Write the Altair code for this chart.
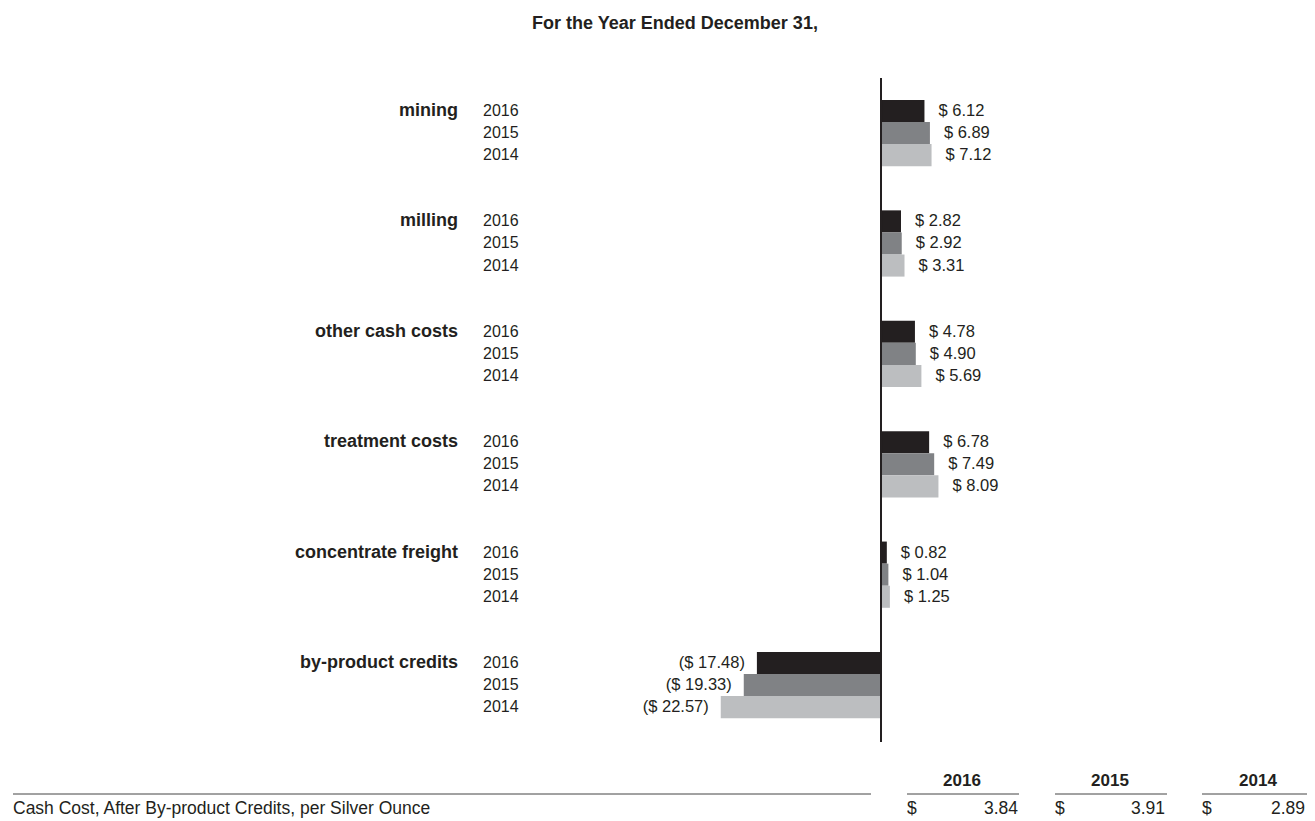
import altair as alt
import pandas as pd

# ---- data ----
categories = ["mining", "milling", "other cash costs", "treatment costs",
              "concentrate freight", "by-product credits"]
years = ["2016", "2015", "2014"]
v2016 = [6.12, 2.82, 4.78, 6.78, 0.82, -17.48]
v2015 = [6.89, 2.92, 4.90, 7.49, 1.04, -19.33]
v2014 = [7.12, 3.31, 5.69, 8.09, 1.25, -22.57]
total_label = "Cash Cost, After By-product Credits, per Silver Ounce"
totals = [3.84, 3.91, 2.89]
title_text = "For the Year Ended December 31,"

colors = ["#231f20", "#808285", "#bcbec0"]
FONT = "Liberation Sans"
INK = "#231f20"

series = {"2016": v2016, "2015": v2015, "2014": v2014}
rows = []
for gi, cat in enumerate(categories):
    for yi, yr in enumerate(years):
        v = series[yr][gi]
        lab = f"$ {v:.2f}" if v >= 0 else f"($ {abs(v):.2f})"
        rows.append({"category": cat, "year": yr, "value": v,
                     "r": gi * 5 + yi, "r0": gi * 5 + yi - 0.5,
                     "r1": gi * 5 + yi + 0.5, "label": lab, "zero": 0.0})
df = pd.DataFrame(rows)
cat_df = df[df["year"] == years[0]]

W, H = 1299, 813
xs = alt.Scale(domain=[-122.96, 60.0], range=[0, W])
# row index r -> pixel 103 + 22.08 * r
ys = alt.Scale(domain=[-103 / 22.08, (H - 103) / 22.08], reverse=True, nice=False, zero=False)

base = alt.Chart(df)

bars = base.mark_bar(cornerRadius=0).encode(
    x=alt.X("value:Q", scale=xs, axis=None),
    x2="zero:Q",
    y=alt.Y("r0:Q", scale=ys, axis=None),
    y2="r1:Q",
    color=alt.Color("year:N", scale=alt.Scale(domain=years, range=colors), legend=None),
)

zero_rule = alt.Chart(pd.DataFrame({"zero": [0.0]})).mark_rule(
    color=INK, strokeWidth=2
).encode(x=alt.X("zero:Q", scale=xs), y=alt.value(70), y2=alt.value(734))

pos_lab = base.transform_filter("datum.value >= 0").mark_text(
    align="left", baseline="middle", dx=14, font=FONT, fontSize=16.5, color=INK
).encode(x=alt.X("value:Q", scale=xs), y=alt.Y("r:Q", scale=ys), text="label:N")

neg_lab = base.transform_filter("datum.value < 0").mark_text(
    align="right", baseline="middle", dx=-12, font=FONT, fontSize=16.5, color=INK
).encode(x=alt.X("value:Q", scale=xs), y=alt.Y("r:Q", scale=ys), text="label:N")

year_lab = base.mark_text(
    align="left", baseline="middle", font=FONT, fontSize=16, color=INK
).encode(x=alt.value(475), y=alt.Y("r:Q", scale=ys), text="year:N")

cat_lab = alt.Chart(cat_df).mark_text(
    align="right", baseline="middle", font=FONT, fontSize=18, fontWeight="bold", color=INK
).encode(x=alt.value(450), y=alt.Y("r:Q", scale=ys), text="category:N")

title = alt.Chart(pd.DataFrame({"t": [title_text]})).mark_text(
    align="center", baseline="alphabetic", font=FONT, fontSize=18, fontWeight="bold", color=INK
).encode(x=alt.value(667), y=alt.value(21), text="t:N")

# ---- summary table ----
col_center = [954, 1102, 1250]
col_left = [899, 1047, 1194]
col_right = [1010, 1157, 1297]
line_end = [1011, 1159, 1299]

table_layers = []
for i, yr in enumerate(years):
    d = pd.DataFrame({"year": [yr], "num": [f"{totals[i]:.2f}"], "cur": ["$"]})
    c = alt.Chart(d)
    table_layers.append(c.mark_text(
        align="center", baseline="alphabetic", font=FONT, fontSize=17, fontWeight="bold", color=INK
    ).encode(x=alt.value(col_center[i]), y=alt.value(778), text="year:N"))
    table_layers.append(c.mark_rule(color="#444444", strokeWidth=1).encode(
        x=alt.value(col_left[i]), x2=alt.value(line_end[i]), y=alt.value(786)))
    table_layers.append(c.mark_text(
        align="left", baseline="alphabetic", font=FONT, fontSize=17.5, color=INK
    ).encode(x=alt.value(col_left[i]), y=alt.value(806), text="cur:N"))
    table_layers.append(c.mark_text(
        align="right", baseline="alphabetic", font=FONT, fontSize=17.5, color=INK
    ).encode(x=alt.value(col_right[i]), y=alt.value(806), text="num:N"))

row_df = pd.DataFrame({"t": [total_label]})
row_line = alt.Chart(row_df).mark_rule(color="#444444", strokeWidth=1).encode(
    x=alt.value(5), x2=alt.value(863), y=alt.value(786))
row_text = alt.Chart(row_df).mark_text(
    align="left", baseline="alphabetic", font=FONT, fontSize=17.5, color=INK
).encode(x=alt.value(5), y=alt.value(806), text="t:N")

chart = alt.layer(
    bars, zero_rule, pos_lab, neg_lab, year_lab, cat_lab, title,
    row_line, row_text, *table_layers
).properties(
    width=W, height=H, padding=0,
    autosize=alt.AutoSizeParams(type="none"),
    background="white",
).configure_view(stroke=None)

chart.save("out.html", embed_options={"renderer": "svg", "actions": False})
